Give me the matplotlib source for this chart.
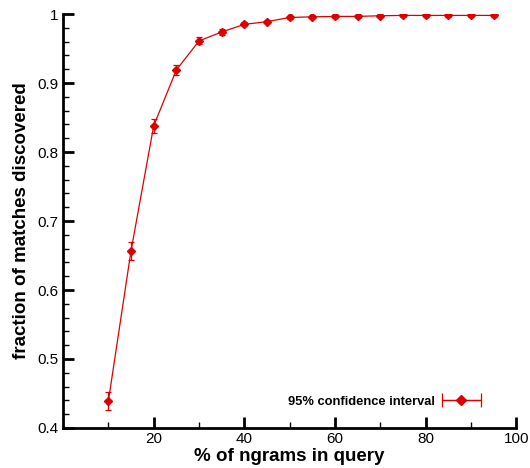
import matplotlib
matplotlib.use("Agg")
import matplotlib.pyplot as plt
from matplotlib.legend_handler import HandlerErrorbar
import numpy as np

pct_ngrams = [10, 15, 20, 25, 30, 35, 40, 45, 50, 55, 60, 65, 70, 75, 80, 85, 90, 95]
fraction = [0.439, 0.657, 0.838, 0.919, 0.961, 0.974, 0.985, 0.989, 0.995, 0.996,
            0.9965, 0.9966, 0.9975, 0.998, 0.998, 0.998, 0.998, 0.998]
ci95 = [0.013, 0.013, 0.010, 0.007, 0.005, 0.004, 0.003, 0.002, 0.002, 0.002,
        0.002, 0.002, 0.002, 0.002, 0.002, 0.002, 0.002, 0.002]

plt.rcParams['font.family'] = ['Liberation Sans', 'DejaVu Sans']
color = '#dd0000'

fig = plt.figure(figsize=(5.3, 4.68), dpi=100)
ax = fig.add_axes([0.119, 0.0855, 0.855, 0.8845])

ax.errorbar(pct_ngrams, fraction, yerr=ci95, color=color, marker='D', markersize=4,
            linewidth=0.9, elinewidth=0.9, capsize=2.5, capthick=0.9)
h = ax.errorbar([np.nan], [np.nan], xerr=[1], color=color, marker='D', markersize=5.5,
                linewidth=0.9, elinewidth=0.9, capsize=5, capthick=0.9,
                label='95% confidence interval')

ax.set_xlim(0, 100)
ax.set_ylim(0.4, 1.0)
ax.set_xticks([20, 40, 60, 80, 100])
ax.set_xticks([10, 30, 50, 70, 90], minor=True)
ax.set_yticks([0.4, 0.5, 0.6, 0.7, 0.8, 0.9, 1.0])
ax.set_yticklabels(['0.4', '0.5', '0.6', '0.7', '0.8', '0.9', '1'])
ax.set_yticks(np.arange(0.42, 1.0, 0.02), minor=True)

for s in ['top', 'right']:
    ax.spines[s].set_visible(False)
for s in ['left', 'bottom']:
    ax.spines[s].set_linewidth(2)

ax.tick_params(which='major', direction='in', length=8, width=2, labelsize=11)
ax.tick_params(axis='x', which='major', pad=3)
ax.tick_params(which='minor', direction='in', length=4, width=1)

ax.set_xlabel('% of ngrams in query', fontsize=13.5, fontweight='bold', labelpad=1)
ax.set_ylabel('fraction of matches discovered', fontsize=13.5, fontweight='bold', labelpad=5)

leg = ax.legend(handles=[h], loc='center right', bbox_to_anchor=(0.947, 0.063),
                frameon=False, markerfirst=False,
                prop={'weight': 'bold', 'size': 9.3}, handlelength=3.0,
                handletextpad=0.5,
                handler_map={type(h): HandlerErrorbar(xerr_size=1.5)})

fig.savefig('out.png', dpi=100)
